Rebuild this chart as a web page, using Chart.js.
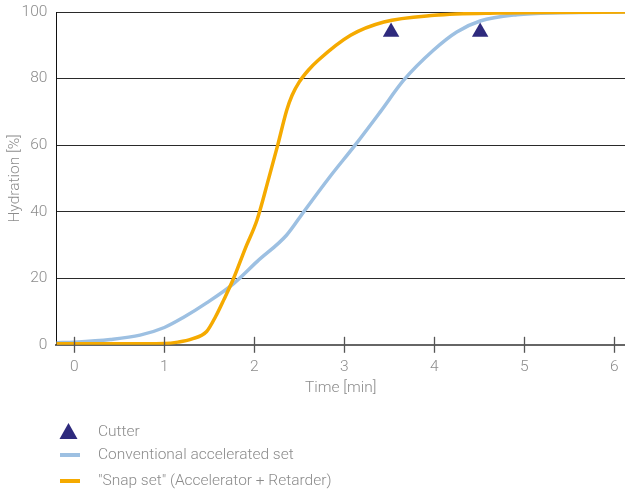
<!DOCTYPE html>
<html>
<head>
<meta charset="utf-8">
<script src="https://cdn.jsdelivr.net/npm/chart.js@4.4.1/dist/chart.umd.min.js"></script>
<style>
  html, body { margin: 0; padding: 0; background: #fff; }
  #wrap { width: 625px; height: 491px; }
</style>
</head>
<body>
<div id="wrap"><canvas id="hydration-chart"></canvas></div>
<script>
// time in minutes, hydration in %
var convTime = [-0.2, 0, 0.4, 0.73, 1.0, 1.21, 1.47, 1.77, 2.03, 2.36, 2.55, 2.84, 3.12, 3.4, 3.66, 3.99, 4.25, 4.51, 4.92, 5.4, 6.12];
var convHyd  = [0.6, 0.8, 1.6, 2.9, 5.2, 8.2, 12.6, 18.4, 25, 33, 40, 50.5, 60, 70, 79.5, 88.5, 94, 97.3, 99.2, 99.8, 100];

var snapTime = [-0.2, 0.5, 1.0, 1.15, 1.3, 1.47, 1.57, 1.66, 1.77, 1.9, 2.03, 2.16, 2.26, 2.36, 2.42, 2.5, 2.6, 2.71, 3.07, 3.44, 4.0, 4.7, 6.12];
var snapHyd  = [0.3, 0.3, 0.4, 0.8, 1.7, 4, 8.5, 13.5, 20, 29, 37.5, 50, 60, 70.5, 75, 79, 82.5, 85.5, 93, 97, 99, 99.7, 100];

var cutterTime = [3.52, 4.51];
var cutterHyd  = [94, 94];

var xTicks = [0, 1, 2, 3, 4, 5, 6];

var labelConv = "Conventional accelerated set";
var labelSnap = "\"Snap set\" (Accelerator + Retarder)";
var labelCutter = "Cutter";

var blue = "#9dc0e2";
var orange = "#f5aa00";
var navy = "#2e2a7d";
var grey = "#8c8c8c";
var txtFont = { family: "Roboto", size: 15.5, weight: 300 };

function toPoints(xs, ys) {
  var pts = [];
  for (var i = 0; i < xs.length; i++) {
    pts.push({ x: xs[i], y: ys[i] });
  }
  return pts;
}

// small tick marks crossing the x axis
var crossTicks = {
  id: "crossTicks",
  afterDatasetsDraw: function (c) {
    var ctx = c.ctx;
    var xs = c.scales.x;
    var yb = c.scales.y.getPixelForValue(0);
    ctx.save();
    ctx.strokeStyle = "#555";
    ctx.lineWidth = 1.3;
    for (var i = 0; i < xTicks.length; i++) {
      var px = Math.round(xs.getPixelForValue(xTicks[i])) + 0.5;
      ctx.beginPath();
      ctx.moveTo(px, yb - 8);
      ctx.lineTo(px, yb + 8);
      ctx.stroke();
    }
    ctx.restore();
  }
};

// stacked legend below the plot
var stackLegend = {
  id: "stackLegend",
  afterDraw: function (c) {
    var ctx = c.ctx;
    ctx.save();
    ctx.font = "300 15.5px Roboto";
    ctx.textBaseline = "middle";

    ctx.fillStyle = navy;
    ctx.beginPath();
    ctx.moveTo(68.5, 423);
    ctx.lineTo(77.5, 439);
    ctx.lineTo(59.5, 439);
    ctx.closePath();
    ctx.fill();

    ctx.lineWidth = 4;
    ctx.strokeStyle = blue;
    ctx.beginPath();
    ctx.moveTo(60, 455);
    ctx.lineTo(80, 455);
    ctx.stroke();

    ctx.strokeStyle = orange;
    ctx.beginPath();
    ctx.moveTo(60, 481);
    ctx.lineTo(80, 481);
    ctx.stroke();

    ctx.fillStyle = grey;
    ctx.fillText(labelCutter, 98, 432);
    ctx.fillText(labelConv, 98, 455);
    ctx.fillText(labelSnap, 98, 481);
    ctx.restore();
  }
};

new Chart(document.getElementById("hydration-chart"), {
  type: "scatter",
  data: {
    datasets: [
      {
        label: labelCutter,
        data: toPoints(cutterTime, cutterHyd),
        pointStyle: "triangle",
        pointRadius: 9.5,
        pointHoverRadius: 9.5,
        backgroundColor: navy,
        borderColor: navy,
        borderWidth: 0,
        showLine: false,
      },
      {
        label: labelSnap,
        data: toPoints(snapTime, snapHyd),
        showLine: true,
        borderColor: orange,
        borderWidth: 3.5,
        pointRadius: 0,
        cubicInterpolationMode: "monotone",
      },
      {
        label: labelConv,
        data: toPoints(convTime, convHyd),
        showLine: true,
        borderColor: blue,
        borderWidth: 3.5,
        pointRadius: 0,
        cubicInterpolationMode: "monotone",
      },
    ],
  },
  options: {
    responsive: true,
    maintainAspectRatio: false,
    animation: false,
    layout: { autoPadding: false, padding: { top: 0, right: 0, left: 0, bottom: 94 } },
    plugins: {
      legend: { display: false },
      tooltip: { enabled: false },
    },
    scales: {
      x: {
        type: "linear",
        min: -0.2,
        max: 6.12,
        afterBuildTicks: function (axis) {
          axis.ticks = xTicks.map(function (v) { return { value: v }; });
        },
        afterFit: function (axis) {
          axis.paddingRight = 0;
          axis.paddingLeft = 0;
        },
        grid: { display: false, drawTicks: false },
        border: { display: true, color: "#666", width: 2 },
        ticks: {
          padding: 13,
          color: grey,
          font: txtFont,
          maxRotation: 0,
        },
        title: {
          display: true,
          text: "Time [min]",
          color: grey,
          font: txtFont,
          padding: { top: -11, bottom: 0 },
        },
      },
      y: {
        min: 0,
        max: 100,
        afterFit: function (axis) {
          axis.width -= 12;
          axis.paddingTop = 12;
        },
        ticks: {
          stepSize: 20,
          padding: 9,
          color: grey,
          font: txtFont,
        },
        grid: { color: "#2a2a2a", lineWidth: 1, drawTicks: false },
        border: { display: true, color: "#111", width: 1 },
        title: {
          display: true,
          text: "Hydration [%]",
          color: grey,
          font: txtFont,
          padding: { top: 6, bottom: 0 },
        },
      },
    },
  },
  plugins: [crossTicks, stackLegend],
});
</script>
</body>
</html>
